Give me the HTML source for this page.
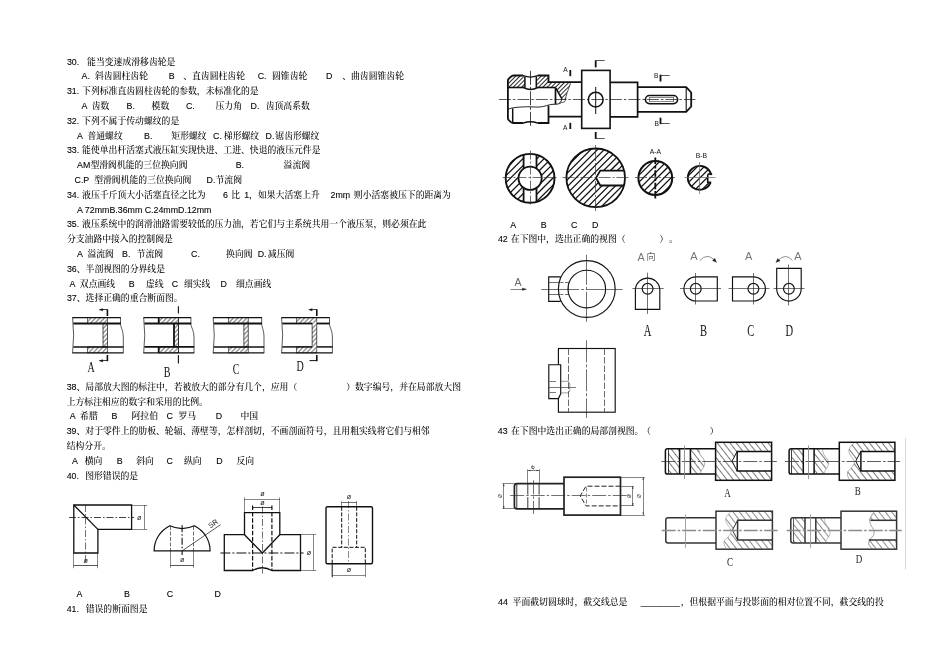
<!DOCTYPE html>
<html lang="zh"><head><meta charset="utf-8"><title>page</title>
<style>
html,body{margin:0;padding:0;background:#fff}
body{width:950px;height:672px;position:relative;overflow:hidden;font-family:"Liberation Sans","Noto Serif CJK SC",serif;font-size:8.83px;color:#000;font-weight:500}
.t{position:absolute;white-space:pre;line-height:15px;height:15px}
.l{-webkit-text-stroke:0.1px #000}
svg{position:absolute;left:0;top:0}
#wrap{position:absolute;left:0;top:0;width:950px;height:672px;will-change:transform}
</style></head><body><div id="wrap">
<svg width="950" height="672" viewBox="0 0 950 672">
<defs>
<pattern id="h37" width="3.2" height="3.2" patternUnits="userSpaceOnUse" patternTransform="rotate(-46)"><line x1="0" y1="1.6" x2="3.2" y2="1.6" stroke="#222" stroke-width="0.7"/></pattern>
<pattern id="h45" width="5.7" height="5.7" patternUnits="userSpaceOnUse" patternTransform="rotate(-45)"><line x1="0" y1="2.85" x2="5.7" y2="2.85" stroke="#111" stroke-width="1.05"/></pattern>
<pattern id="h45s" width="3" height="3" patternUnits="userSpaceOnUse" patternTransform="rotate(-45)"><line x1="0" y1="1.5" x2="3" y2="1.5" stroke="#111" stroke-width="0.9"/></pattern>
<pattern id="hb" width="5" height="5" patternUnits="userSpaceOnUse" patternTransform="rotate(52)"><line x1="0" y1="2.5" x2="5" y2="2.5" stroke="#333" stroke-width="0.65"/></pattern>
</defs>
<g id="q37">
<rect x="87.6" y="317.7" width="19.8" height="5.8" rx="0.0" fill="url(#h37)" stroke="#111" stroke-width="0.60"/>
<rect x="87.6" y="346.9" width="19.8" height="6.0" rx="0.0" fill="url(#h37)" stroke="#111" stroke-width="0.60"/>
<rect x="103.0" y="323.5" width="4.4" height="23.4" rx="0.0" fill="url(#h37)" stroke="#111" stroke-width="0.70"/>
<line x1="72.30" y1="317.70" x2="120.80" y2="317.70" stroke="#111" stroke-width="1.30"/>
<line x1="72.30" y1="352.90" x2="123.50" y2="352.90" stroke="#111" stroke-width="1.40"/>
<path d="M72.6 317.7 Q74.7 335.3 72.6 352.9" fill="none" stroke="#111" stroke-width="0.70" />
<path d="M120.5 317.7 V324.5 C120.8 327.5 123.5 330.5 123.3 338.9 V352.9" fill="none" stroke="#111" stroke-width="0.70" />
<line x1="73.30" y1="323.50" x2="120.80" y2="323.50" stroke="#111" stroke-width="1.90"/>
<line x1="73.30" y1="346.90" x2="123.50" y2="346.90" stroke="#111" stroke-width="1.50"/>
<line x1="107.40" y1="309.30" x2="107.40" y2="316.00" stroke="#111" stroke-width="1.60"/>
<line x1="100.00" y1="309.50" x2="107.40" y2="309.50" stroke="#111" stroke-width="0.80"/>
<path d="M98.8 309.8 L102.8 308.5 L102.8 311.1 Z" fill="#111" stroke="#111" stroke-width="0.20" />
<line x1="107.40" y1="355.00" x2="107.40" y2="361.20" stroke="#111" stroke-width="1.60"/>
<line x1="100.00" y1="360.50" x2="107.40" y2="360.50" stroke="#111" stroke-width="0.80"/>
<path d="M98.8 360.8 L102.8 359.5 L102.8 362.1 Z" fill="#111" stroke="#111" stroke-width="0.20" />
<text transform="translate(91.2 371.9) scale(0.65 1)" font-family='"Liberation Serif",serif' font-size="15.5" fill="#111" text-anchor="middle" font-weight="normal">A</text>
<rect x="158.7" y="317.7" width="19.7" height="5.8" rx="0.0" fill="url(#h37)" stroke="#111" stroke-width="0.60"/>
<rect x="158.7" y="346.9" width="19.7" height="6.0" rx="0.0" fill="url(#h37)" stroke="#111" stroke-width="0.60"/>
<rect x="174.0" y="323.5" width="4.4" height="23.4" rx="0.0" fill="url(#h37)" stroke="#111" stroke-width="0.70"/>
<line x1="143.40" y1="317.70" x2="191.20" y2="317.70" stroke="#111" stroke-width="1.30"/>
<line x1="143.40" y1="352.90" x2="194.20" y2="352.90" stroke="#111" stroke-width="1.40"/>
<path d="M143.7 317.7 Q145.8 335.3 143.7 352.9" fill="none" stroke="#111" stroke-width="0.70" />
<path d="M190.9 317.7 V324.5 C191.2 327.5 194.2 330.5 194.0 338.9 V352.9" fill="none" stroke="#111" stroke-width="0.70" />
<line x1="144.40" y1="323.50" x2="191.20" y2="323.50" stroke="#111" stroke-width="1.80"/>
<line x1="144.40" y1="346.90" x2="194.20" y2="346.90" stroke="#111" stroke-width="1.60"/>
<line x1="158.70" y1="317.70" x2="158.70" y2="323.50" stroke="#111" stroke-width="1.80"/>
<line x1="158.70" y1="346.90" x2="158.70" y2="352.90" stroke="#111" stroke-width="1.80"/>
<line x1="174.00" y1="323.50" x2="174.00" y2="346.90" stroke="#111" stroke-width="1.70"/>
<line x1="178.40" y1="306.30" x2="178.40" y2="313.40" stroke="#111" stroke-width="1.10"/>
<line x1="178.40" y1="355.00" x2="178.40" y2="363.40" stroke="#111" stroke-width="1.10"/>
<line x1="178.50" y1="317.70" x2="178.50" y2="352.90" stroke="#111" stroke-width="0.60"/>
<text transform="translate(167.0 376.7) scale(0.65 1)" font-family='"Liberation Serif",serif' font-size="15.5" fill="#111" text-anchor="middle" font-weight="normal">B</text>
<rect x="228.7" y="317.7" width="19.5" height="5.8" rx="0.0" fill="url(#h37)" stroke="#111" stroke-width="0.60"/>
<rect x="228.7" y="346.9" width="19.5" height="6.0" rx="0.0" fill="url(#h37)" stroke="#111" stroke-width="0.60"/>
<rect x="243.9" y="323.5" width="4.3" height="23.4" rx="0.0" fill="url(#h37)" stroke="#111" stroke-width="0.70"/>
<line x1="212.90" y1="317.70" x2="262.00" y2="317.70" stroke="#111" stroke-width="1.30"/>
<line x1="212.90" y1="352.90" x2="264.20" y2="352.90" stroke="#111" stroke-width="1.40"/>
<path d="M213.2 317.7 Q215.3 335.3 213.2 352.9" fill="none" stroke="#111" stroke-width="0.70" />
<path d="M261.7 317.7 V324.5 C262.0 327.5 264.2 330.5 264.0 338.9 V352.9" fill="none" stroke="#111" stroke-width="0.70" />
<line x1="213.90" y1="323.50" x2="262.00" y2="323.50" stroke="#111" stroke-width="1.90"/>
<line x1="213.90" y1="346.90" x2="264.20" y2="346.90" stroke="#111" stroke-width="1.50"/>
<text transform="translate(236.0 373.5) scale(0.65 1)" font-family='"Liberation Serif",serif' font-size="15.5" fill="#111" text-anchor="middle" font-weight="normal">C</text>
<rect x="296.3" y="317.7" width="20.5" height="5.8" rx="0.0" fill="url(#h37)" stroke="#111" stroke-width="0.60"/>
<rect x="296.3" y="346.9" width="20.5" height="6.0" rx="0.0" fill="url(#h37)" stroke="#111" stroke-width="0.60"/>
<rect x="312.1" y="323.5" width="4.7" height="23.4" rx="0.0" fill="url(#h37)" stroke="#111" stroke-width="0.70"/>
<line x1="281.30" y1="317.70" x2="329.80" y2="317.70" stroke="#111" stroke-width="1.30"/>
<line x1="281.30" y1="352.90" x2="332.60" y2="352.90" stroke="#111" stroke-width="1.40"/>
<path d="M281.6 317.7 Q283.7 335.3 281.6 352.9" fill="none" stroke="#111" stroke-width="0.70" />
<path d="M329.5 317.7 V324.5 C329.8 327.5 332.6 330.5 332.4 338.9 V352.9" fill="none" stroke="#111" stroke-width="0.70" />
<line x1="282.30" y1="323.50" x2="312.10" y2="323.50" stroke="#111" stroke-width="1.80"/>
<line x1="316.80" y1="323.50" x2="329.80" y2="323.50" stroke="#111" stroke-width="1.80"/>
<line x1="282.30" y1="346.90" x2="312.10" y2="346.90" stroke="#111" stroke-width="1.50"/>
<line x1="316.80" y1="346.90" x2="332.60" y2="346.90" stroke="#111" stroke-width="1.50"/>
<rect x="312.6" y="322.4" width="3.8" height="2.2" fill="#fff"/>
<rect x="312.6" y="322.4" width="3.8" height="2.2" fill="url(#h37)"/>
<rect x="312.6" y="345.8" width="3.8" height="2.2" fill="#fff"/>
<rect x="312.6" y="345.8" width="3.8" height="2.2" fill="url(#h37)"/>
<line x1="316.80" y1="309.30" x2="316.80" y2="316.00" stroke="#111" stroke-width="1.60"/>
<line x1="309.50" y1="309.50" x2="316.80" y2="309.50" stroke="#111" stroke-width="0.80"/>
<path d="M308.4 309.8 L312.2 308.5 L312.2 311.1 Z" fill="#111" stroke="#111" stroke-width="0.20" />
<line x1="316.80" y1="355.00" x2="316.80" y2="361.20" stroke="#111" stroke-width="1.60"/>
<line x1="309.50" y1="360.60" x2="316.80" y2="360.60" stroke="#111" stroke-width="1.00"/>
<text transform="translate(300.2 371.2) scale(0.65 1)" font-family='"Liberation Serif",serif' font-size="15.5" fill="#111" text-anchor="middle" font-weight="normal">D</text>
</g>
<g id="q40">
<path d="M73.8 505 H131.6 V529.4 H97.9 V553 H73.8 Z" fill="none" stroke="#111" stroke-width="1.30" />
<line x1="73.80" y1="505.00" x2="97.90" y2="529.40" stroke="#111" stroke-width="1.30"/>
<line x1="69.00" y1="517.50" x2="134.00" y2="517.50" stroke="#111" stroke-width="0.80" stroke-dasharray="7 2 1.5 2"/>
<line x1="85.50" y1="505.00" x2="85.50" y2="563.50" stroke="#111" stroke-width="0.60" stroke-dasharray="7 2 1.5 2"/>
<line x1="131.60" y1="505.50" x2="147.20" y2="505.50" stroke="#111" stroke-width="0.50"/>
<line x1="131.60" y1="529.50" x2="147.20" y2="529.50" stroke="#111" stroke-width="0.50"/>
<line x1="144.50" y1="505.00" x2="144.50" y2="529.40" stroke="#111" stroke-width="0.50"/>
<text transform="translate(139.1 519.7)" font-family='"Liberation Sans",sans-serif' font-size="7.2" fill="#222" text-anchor="middle" font-weight="normal">ø</text>
<line x1="73.50" y1="553.00" x2="73.50" y2="568.20" stroke="#111" stroke-width="0.50"/>
<line x1="97.50" y1="553.00" x2="97.50" y2="568.20" stroke="#111" stroke-width="0.50"/>
<line x1="73.80" y1="565.50" x2="97.90" y2="565.50" stroke="#111" stroke-width="0.70"/>
<text transform="translate(85.8 562.7)" font-family='"Liberation Sans",sans-serif' font-size="7.2" fill="#222" text-anchor="middle" font-weight="normal">ø</text>
<path d="M154.1 550.9 A28.0 28.0 0 0 1 169.9 525.7 Q182.1 531.4 194.3 525.7 A28.0 28.0 0 0 1 210.1 550.9 Z" fill="none" stroke="#111" stroke-width="1.20" />
<line x1="170.50" y1="526.00" x2="170.50" y2="550.90" stroke="#111" stroke-width="0.60" stroke-dasharray="4 1.5"/>
<line x1="193.50" y1="526.00" x2="193.50" y2="550.90" stroke="#111" stroke-width="0.60" stroke-dasharray="4 1.5"/>
<line x1="170.50" y1="550.90" x2="170.50" y2="567.70" stroke="#111" stroke-width="0.50"/>
<line x1="193.50" y1="550.90" x2="193.50" y2="567.70" stroke="#111" stroke-width="0.50"/>
<line x1="182.10" y1="525.30" x2="182.10" y2="555.00" stroke="#111" stroke-width="1.10" stroke-dasharray="7 2 1.5 2"/>
<line x1="182.10" y1="550.90" x2="220.50" y2="524.70" stroke="#111" stroke-width="0.70"/>
<text transform="translate(214.6 525.6) rotate(-35.0) scale(0.95 1)" font-family='"Liberation Sans",sans-serif' font-size="7.4" fill="#111" text-anchor="middle" font-weight="normal">SR</text>
<line x1="170.40" y1="565.50" x2="193.70" y2="565.50" stroke="#111" stroke-width="0.70"/>
<text transform="translate(182.1 561.9)" font-family='"Liberation Sans",sans-serif' font-size="7.2" fill="#222" text-anchor="middle" font-weight="normal">ø</text>
<path d="M244.5 534.7 H224.3 V570.5 H252.6 Q262.4 565 271.9 570.5 H300.5 V534.7 H279.8 V512.7 H244.5 Z" fill="none" stroke="#111" stroke-width="1.30" />
<path d="M244.5 534.7 L262.4 553 L279.8 534.7" fill="none" stroke="#111" stroke-width="1.30" />
<line x1="252.60" y1="505.60" x2="252.60" y2="570.50" stroke="#111" stroke-width="1.20" stroke-dasharray="4.5 1.8"/>
<line x1="271.90" y1="505.60" x2="271.90" y2="570.50" stroke="#111" stroke-width="1.20" stroke-dasharray="4.5 1.8"/>
<line x1="262.50" y1="506.50" x2="262.50" y2="573.60" stroke="#111" stroke-width="0.60" stroke-dasharray="7 2 1.5 2"/>
<line x1="220.40" y1="553.00" x2="303.60" y2="553.00" stroke="#111" stroke-width="1.10" stroke-dasharray="10 2 2 2"/>
<line x1="244.50" y1="497.50" x2="244.50" y2="512.70" stroke="#111" stroke-width="0.50"/>
<line x1="279.50" y1="497.50" x2="279.50" y2="512.70" stroke="#111" stroke-width="0.50"/>
<line x1="244.50" y1="499.50" x2="279.80" y2="499.50" stroke="#111" stroke-width="0.50"/>
<text transform="translate(262.4 495.9)" font-family='"Liberation Sans",sans-serif' font-size="7.2" fill="#222" text-anchor="middle" font-weight="normal">ø</text>
<line x1="252.60" y1="507.50" x2="271.90" y2="507.50" stroke="#111" stroke-width="0.80"/>
<text transform="translate(262.4 504.8)" font-family='"Liberation Sans",sans-serif' font-size="7.2" fill="#222" text-anchor="middle" font-weight="normal">ø</text>
<line x1="300.50" y1="534.50" x2="316.10" y2="534.50" stroke="#111" stroke-width="0.50"/>
<line x1="300.50" y1="570.50" x2="316.10" y2="570.50" stroke="#111" stroke-width="0.50"/>
<line x1="313.50" y1="534.70" x2="313.50" y2="570.50" stroke="#111" stroke-width="0.50"/>
<text transform="translate(309.0 555.1)" font-family='"Liberation Sans",sans-serif' font-size="7.2" fill="#222" text-anchor="middle" font-weight="normal">ø</text>
<rect x="326.0" y="506.8" width="46.5" height="56.9" rx="1.5" fill="none" stroke="#111" stroke-width="1.40"/>
<line x1="341.70" y1="506.80" x2="341.70" y2="547.30" stroke="#111" stroke-width="1.00" stroke-dasharray="4 1.6"/>
<line x1="356.70" y1="506.80" x2="356.70" y2="547.30" stroke="#111" stroke-width="1.00" stroke-dasharray="4 1.6"/>
<path d="M332.2 563.7 V547.3 H365.3 V563.7" fill="none" stroke="#111" stroke-width="1.00" stroke-dasharray="4 1.6" />
<line x1="332.20" y1="563.70" x2="332.20" y2="577.20" stroke="#111" stroke-width="1.00"/>
<line x1="365.50" y1="563.70" x2="365.50" y2="577.20" stroke="#111" stroke-width="0.50"/>
<line x1="332.20" y1="575.50" x2="365.30" y2="575.50" stroke="#111" stroke-width="0.50"/>
<text transform="translate(348.9 572.4)" font-family='"Liberation Sans",sans-serif' font-size="7.2" fill="#222" text-anchor="middle" font-weight="normal">ø</text>
<line x1="341.50" y1="501.10" x2="341.50" y2="506.80" stroke="#111" stroke-width="0.50"/>
<line x1="356.50" y1="501.10" x2="356.50" y2="506.80" stroke="#111" stroke-width="0.50"/>
<line x1="341.70" y1="502.50" x2="356.70" y2="502.50" stroke="#111" stroke-width="0.60"/>
<text transform="translate(348.9 499.4)" font-family='"Liberation Sans",sans-serif' font-size="7.2" fill="#222" text-anchor="middle" font-weight="normal">ø</text>
<line x1="348.50" y1="501.00" x2="348.50" y2="563.70" stroke="#111" stroke-width="0.50" stroke-dasharray="7 2 1.5 2"/>
</g>
<g id="q41">
<path d="M508.2 80 L512.6 75.8 H523.6 L525 77 V87.5 H508.2 Z" fill="url(#h45s)" stroke="#111" stroke-width="0.00" />
<path d="M536.3 87.5 V77 L537.6 75.8 H548.5 V87.5 Z" fill="url(#h45s)" stroke="#111" stroke-width="0.00" />
<path d="M548.5 82.4 H570.8 L569.6 86 L567.6 91 L566 96 L565.6 99.6 L562.2 99.6 L555.9 88.4 V87.5 H548.5 Z" fill="url(#h45s)" stroke="#111" stroke-width="0.00" />
<path d="M507.9 109 V80.2 Q508.2 79 509.2 78.2 L511.8 76 Q512.6 75.5 513.6 75.5 H523.2" fill="none" stroke="#111" stroke-width="1.80" />
<path d="M523.2 75.5 Q530.5 78.6 537.6 75.5" fill="none" stroke="#111" stroke-width="1.30" />
<path d="M537.6 75.5 H548.5 V82.2 H581.8" fill="none" stroke="#111" stroke-width="1.80" />
<line x1="524.90" y1="76.40" x2="524.90" y2="87.40" stroke="#111" stroke-width="1.50"/>
<line x1="536.30" y1="76.40" x2="536.30" y2="87.40" stroke="#111" stroke-width="1.50"/>
<path d="M523.6 87.5 Q530.5 91.6 537.6 87.5" fill="none" stroke="#111" stroke-width="1.50" />
<line x1="507.90" y1="87.50" x2="524.20" y2="87.50" stroke="#111" stroke-width="1.60"/>
<line x1="537.00" y1="87.50" x2="555.80" y2="87.50" stroke="#111" stroke-width="1.60"/>
<line x1="555.50" y1="87.50" x2="555.50" y2="104.40" stroke="#111" stroke-width="1.70"/>
<path d="M555.8 88.2 L561.9 98.9" fill="none" stroke="#111" stroke-width="1.50" />
<path d="M561.9 98.9 Q561.6 102 558.8 103.4" fill="none" stroke="#111" stroke-width="0.90" />
<path d="M570.7 82.4 C570 86 568.2 89.5 567.2 92.5 S565.6 98 565.5 100.3 Q565 102.6 561.6 102.6" fill="none" stroke="#111" stroke-width="0.70" />
<path d="M508.2 109.2 C512 107.6 516 107.4 520 107.1 S529 106.6 533 106.9 S541 107.4 546.3 105.7 S553 104.4 556 104.2 S560.4 103.4 561.6 102.4" fill="none" stroke="#111" stroke-width="0.90" />
<path d="M507.9 109 V118.4 Q508 119.4 508.8 120.2 L511.2 122.4 Q512 123 513 123 H523.4" fill="none" stroke="#111" stroke-width="1.80" />
<path d="M523.4 123 Q530.5 120.6 537.6 123" fill="none" stroke="#111" stroke-width="1.40" />
<path d="M537.6 123 H548.5 V105.4" fill="none" stroke="#111" stroke-width="1.80" />
<line x1="512.70" y1="108.40" x2="512.70" y2="123.00" stroke="#111" stroke-width="1.50"/>
<line x1="548.50" y1="116.70" x2="581.80" y2="116.70" stroke="#111" stroke-width="1.80"/>
<line x1="498.90" y1="99.50" x2="695.40" y2="99.50" stroke="#111" stroke-width="0.70" stroke-dasharray="12 2 2.5 2"/>
<line x1="530.50" y1="70.80" x2="530.50" y2="127.20" stroke="#111" stroke-width="0.80" stroke-dasharray="14 2 2.5 2"/>
<text transform="translate(565.4 72.4)" font-family='"Liberation Sans",sans-serif' font-size="6.6" fill="#111" text-anchor="middle" font-weight="normal">A</text>
<line x1="570.30" y1="70.00" x2="570.30" y2="76.20" stroke="#111" stroke-width="1.80"/>
<text transform="translate(565.3 129.7)" font-family='"Liberation Sans",sans-serif' font-size="6.6" fill="#111" text-anchor="middle" font-weight="normal">A</text>
<line x1="570.30" y1="122.80" x2="570.30" y2="129.00" stroke="#111" stroke-width="1.80"/>
<rect x="581.7" y="70.4" width="28.4" height="58.0" rx="0.0" fill="none" stroke="#111" stroke-width="1.60"/>
<circle cx="595.7" cy="99.6" r="7.4" fill="none" stroke="#111" stroke-width="1.50"/>
<line x1="595.70" y1="87.00" x2="595.70" y2="114.00" stroke="#111" stroke-width="1.00"/>
<line x1="595.70" y1="60.40" x2="595.70" y2="67.40" stroke="#111" stroke-width="1.80"/>
<line x1="595.70" y1="60.50" x2="604.70" y2="60.50" stroke="#111" stroke-width="0.70"/>
<line x1="595.70" y1="132.00" x2="595.70" y2="138.80" stroke="#111" stroke-width="1.80"/>
<line x1="595.70" y1="138.50" x2="604.70" y2="138.50" stroke="#111" stroke-width="0.70"/>
<path d="M610.1 82.4 H637.6 V116.8 H610.1" fill="none" stroke="#111" stroke-width="1.70" />
<path d="M637.6 87.1 H686.2 L691.2 92.5 V106.5 L686.2 111.9 H637.6" fill="none" stroke="#111" stroke-width="1.80" />
<line x1="686.20" y1="87.10" x2="686.20" y2="111.90" stroke="#111" stroke-width="1.10"/>
<rect x="645.4" y="95.5" width="32.2" height="8.2" rx="4.1" fill="none" stroke="#111" stroke-width="1.60"/>
<line x1="649.50" y1="97.00" x2="649.50" y2="102.20" stroke="#111" stroke-width="0.50"/>
<line x1="673.50" y1="97.00" x2="673.50" y2="102.20" stroke="#111" stroke-width="0.50"/>
<line x1="649.50" y1="97.50" x2="673.50" y2="97.50" stroke="#111" stroke-width="0.50"/>
<line x1="649.50" y1="101.50" x2="673.50" y2="101.50" stroke="#111" stroke-width="0.50"/>
<text transform="translate(656.3 77.8)" font-family='"Liberation Sans",sans-serif' font-size="6.6" fill="#111" text-anchor="middle" font-weight="normal">B</text>
<line x1="660.50" y1="74.70" x2="660.50" y2="81.50" stroke="#111" stroke-width="1.80"/>
<line x1="660.50" y1="75.50" x2="669.70" y2="75.50" stroke="#111" stroke-width="0.70"/>
<text transform="translate(656.6 126.4)" font-family='"Liberation Sans",sans-serif' font-size="6.6" fill="#111" text-anchor="middle" font-weight="normal">B</text>
<line x1="660.50" y1="117.70" x2="660.50" y2="124.10" stroke="#111" stroke-width="1.80"/>
<line x1="660.50" y1="123.50" x2="669.70" y2="123.50" stroke="#111" stroke-width="0.70"/>
<clipPath id="hc1"><circle cx="530.1" cy="178.3" r="24.4"/></clipPath><g clip-path="url(#hc1)" stroke="#111" stroke-width="1.25"><line x1="473.2" y1="173.0" x2="524.8" y2="121.4"/><line x1="476.7" y1="176.5" x2="528.3" y2="124.9"/><line x1="480.2" y1="180.1" x2="531.9" y2="128.4"/><line x1="483.8" y1="183.6" x2="535.4" y2="132.0"/><line x1="487.3" y1="187.1" x2="538.9" y2="135.5"/><line x1="490.9" y1="190.7" x2="542.5" y2="139.1"/><line x1="494.4" y1="194.2" x2="546.0" y2="142.6"/><line x1="497.9" y1="197.8" x2="549.6" y2="146.1"/><line x1="501.5" y1="201.3" x2="553.1" y2="149.7"/><line x1="505.0" y1="204.8" x2="556.6" y2="153.2"/><line x1="508.5" y1="208.4" x2="560.2" y2="156.7"/><line x1="512.1" y1="211.9" x2="563.7" y2="160.3"/><line x1="515.6" y1="215.4" x2="567.2" y2="163.8"/><line x1="519.1" y1="219.0" x2="570.8" y2="167.3"/><line x1="522.7" y1="222.5" x2="574.3" y2="170.9"/><line x1="526.2" y1="226.0" x2="577.8" y2="174.4"/><line x1="529.7" y1="229.6" x2="581.4" y2="177.9"/><line x1="533.3" y1="233.1" x2="584.9" y2="181.5"/><line x1="536.8" y1="236.6" x2="588.4" y2="185.0"/></g>
<rect x="523.6" y="152" width="12.9" height="52" fill="#fff"/>
<circle cx="530.1" cy="178.3" r="24.4" fill="none" stroke="#111" stroke-width="1.90"/>
<circle cx="530.1" cy="178.3" r="11.6" fill="#fff" stroke="#111" stroke-width="1.80"/>
<line x1="523.60" y1="154.60" x2="523.60" y2="168.40" stroke="#111" stroke-width="1.80"/>
<line x1="536.50" y1="154.60" x2="536.50" y2="168.40" stroke="#111" stroke-width="1.80"/>
<line x1="523.60" y1="188.20" x2="523.60" y2="202.00" stroke="#111" stroke-width="1.80"/>
<line x1="536.50" y1="188.20" x2="536.50" y2="202.00" stroke="#111" stroke-width="1.80"/>
<line x1="502.50" y1="177.50" x2="557.50" y2="177.50" stroke="#333" stroke-width="0.70" stroke-dasharray="9 2 2 2"/>
<line x1="530.50" y1="150.50" x2="530.50" y2="205.50" stroke="#333" stroke-width="0.70" stroke-dasharray="9 2 2 2"/>
<clipPath id="hc2"><circle cx="595.7" cy="177.8" r="29.3"/></clipPath><g clip-path="url(#hc2)" stroke="#111" stroke-width="1.25"><line x1="528.0" y1="171.5" x2="589.4" y2="110.1"/><line x1="531.4" y1="174.9" x2="592.8" y2="113.5"/><line x1="534.8" y1="178.3" x2="596.2" y2="116.9"/><line x1="538.2" y1="181.7" x2="599.6" y2="120.3"/><line x1="541.6" y1="185.1" x2="603.0" y2="123.7"/><line x1="545.0" y1="188.5" x2="606.4" y2="127.1"/><line x1="548.4" y1="191.9" x2="609.8" y2="130.5"/><line x1="551.8" y1="195.3" x2="613.2" y2="133.9"/><line x1="555.2" y1="198.7" x2="616.6" y2="137.3"/><line x1="558.6" y1="202.1" x2="620.0" y2="140.7"/><line x1="561.9" y1="205.5" x2="623.4" y2="144.0"/><line x1="565.3" y1="208.9" x2="626.8" y2="147.4"/><line x1="568.7" y1="212.3" x2="630.2" y2="150.8"/><line x1="572.1" y1="215.7" x2="633.6" y2="154.2"/><line x1="575.5" y1="219.1" x2="637.0" y2="157.6"/><line x1="578.9" y1="222.4" x2="640.3" y2="161.0"/><line x1="582.3" y1="225.8" x2="643.7" y2="164.4"/><line x1="585.7" y1="229.2" x2="647.1" y2="167.8"/><line x1="589.1" y1="232.6" x2="650.5" y2="171.2"/><line x1="592.5" y1="236.0" x2="653.9" y2="174.6"/><line x1="595.9" y1="239.4" x2="657.3" y2="178.0"/><line x1="599.3" y1="242.8" x2="660.7" y2="181.4"/><line x1="602.7" y1="246.2" x2="664.1" y2="184.8"/></g>
<path d="M596 177.9 L600.3 170.6 H625 V185.5 H600.3 Z" fill="#fff" stroke="#111" stroke-width="0.00" />
<circle cx="595.7" cy="177.8" r="29.3" fill="none" stroke="#111" stroke-width="1.80"/>
<path d="M624.2 170.6 H600.3 L596 177.9 L600.3 185.5 H624.2" fill="none" stroke="#111" stroke-width="1.80" />
<line x1="562.50" y1="177.50" x2="629.00" y2="177.50" stroke="#333" stroke-width="0.70" stroke-dasharray="12 2 2 2"/>
<line x1="595.50" y1="145.00" x2="595.50" y2="211.00" stroke="#333" stroke-width="0.70" stroke-dasharray="12 2 2 2"/>
<clipPath id="hc3"><circle cx="655.3" cy="178.0" r="16.9"/></clipPath><g clip-path="url(#hc3)" stroke="#111" stroke-width="1.25"><line x1="613.6" y1="172.9" x2="650.2" y2="136.3"/><line x1="617.0" y1="176.4" x2="653.7" y2="139.7"/><line x1="620.5" y1="179.8" x2="657.1" y2="143.2"/><line x1="624.0" y1="183.3" x2="660.6" y2="146.7"/><line x1="627.4" y1="186.8" x2="664.1" y2="150.1"/><line x1="630.9" y1="190.2" x2="667.5" y2="153.6"/><line x1="634.4" y1="193.7" x2="671.0" y2="157.1"/><line x1="637.8" y1="197.2" x2="674.5" y2="160.5"/><line x1="641.3" y1="200.6" x2="677.9" y2="164.0"/><line x1="644.8" y1="204.1" x2="681.4" y2="167.5"/><line x1="648.2" y1="207.6" x2="684.9" y2="170.9"/><line x1="651.7" y1="211.0" x2="688.3" y2="174.4"/><line x1="655.2" y1="214.5" x2="691.8" y2="177.9"/><line x1="658.6" y1="218.0" x2="695.3" y2="181.3"/><line x1="662.1" y1="221.4" x2="698.7" y2="184.8"/></g>
<circle cx="655.3" cy="178.0" r="16.9" fill="none" stroke="#111" stroke-width="2.00"/>
<line x1="635.00" y1="177.50" x2="676.00" y2="177.50" stroke="#333" stroke-width="0.70" stroke-dasharray="8 2 2 2"/>
<line x1="655.30" y1="157.60" x2="655.30" y2="198.60" stroke="#111" stroke-width="1.80" stroke-dasharray="6.5 1.8 2.5 1.8"/>
<text transform="translate(655.3 154.2)" font-family='"Liberation Sans",sans-serif' font-size="6.8" fill="#111" text-anchor="middle" font-weight="normal">A-A</text>
<clipPath id="hc4"><circle cx="699.6" cy="177.8" r="11.9"/></clipPath><g clip-path="url(#hc4)" stroke="#111" stroke-width="1.25"><line x1="669.2" y1="174.0" x2="695.8" y2="147.4"/><line x1="672.6" y1="177.5" x2="699.3" y2="150.8"/><line x1="676.1" y1="180.9" x2="702.7" y2="154.3"/><line x1="679.6" y1="184.4" x2="706.2" y2="157.8"/><line x1="683.0" y1="187.9" x2="709.7" y2="161.2"/><line x1="686.5" y1="191.3" x2="713.1" y2="164.7"/><line x1="690.0" y1="194.8" x2="716.6" y2="168.2"/><line x1="693.4" y1="198.3" x2="720.1" y2="171.6"/><line x1="696.9" y1="201.7" x2="723.5" y2="175.1"/><line x1="700.4" y1="205.2" x2="727.0" y2="178.6"/><line x1="703.8" y1="208.7" x2="730.5" y2="182.0"/></g>
<rect x="707.7" y="173.8" width="6" height="8.5" fill="#fff"/>
<path d="M710.6 173 A11.9 11.9 0 1 0 710.6 182.6" fill="none" stroke="#111" stroke-width="1.90" />
<path d="M710.4 172.8 Q712.4 174.6 710.8 174.4 Q708 173 707.7 175.6 V182.3 H711.2" fill="none" stroke="#111" stroke-width="1.60" />
<line x1="684.50" y1="177.50" x2="715.50" y2="177.50" stroke="#666" stroke-width="0.70"/>
<line x1="699.50" y1="162.00" x2="699.50" y2="194.00" stroke="#666" stroke-width="0.70"/>
<text transform="translate(701.4 158.2)" font-family='"Liberation Sans",sans-serif' font-size="6.8" fill="#111" text-anchor="middle" font-weight="normal">B-B</text>
</g>
<g id="q42">
<text transform="translate(517.9 286.4)" font-family='"Liberation Sans",sans-serif' font-size="10.5" fill="#666" text-anchor="middle" font-weight="normal">A</text>
<line x1="510.40" y1="289.50" x2="524.00" y2="289.50" stroke="#333" stroke-width="0.60"/>
<path d="M526.8 289.2 L522.3 288 L522.3 290.4 Z" fill="#222" stroke="#111" stroke-width="0.20" />
<circle cx="586.8" cy="289.0" r="28.4" fill="none" stroke="#111" stroke-width="1.15"/>
<circle cx="586.8" cy="289.0" r="18.8" fill="none" stroke="#111" stroke-width="1.15"/>
<line x1="586.50" y1="254.80" x2="586.50" y2="322.80" stroke="#222" stroke-width="0.65" stroke-dasharray="30 2 3 2"/>
<line x1="541.20" y1="289.50" x2="622.60" y2="289.50" stroke="#222" stroke-width="0.65" stroke-dasharray="38 2 3 2"/>
<path d="M560.8 276.9 H548.7 V301.4 H560.8" fill="none" stroke="#111" stroke-width="1.15" />
<line x1="548.70" y1="282.50" x2="560.50" y2="282.50" stroke="#222" stroke-width="0.65"/>
<line x1="548.70" y1="294.50" x2="560.50" y2="294.50" stroke="#222" stroke-width="0.65"/>
<line x1="560.50" y1="282.50" x2="568.50" y2="282.50" stroke="#222" stroke-width="0.65" stroke-dasharray="3 1.5"/>
<line x1="560.50" y1="294.50" x2="568.50" y2="294.50" stroke="#222" stroke-width="0.65" stroke-dasharray="3 1.5"/>
<line x1="568.50" y1="282.50" x2="568.50" y2="295.00" stroke="#222" stroke-width="0.65" stroke-dasharray="3 1.5"/>
<path d="M635.4 288.8 A12.3 12.3 0 0 1 659.8 288.8 V309.4 H635.4 Z" fill="none" stroke="#111" stroke-width="1.15" />
<circle cx="647.6" cy="288.8" r="5.4" fill="none" stroke="#111" stroke-width="1.15"/>
<line x1="632.40" y1="288.50" x2="663.70" y2="288.50" stroke="#222" stroke-width="0.65"/>
<line x1="647.50" y1="272.70" x2="647.50" y2="313.90" stroke="#222" stroke-width="0.65"/>
<text transform="translate(637.4 260.6)" font-family='"Liberation Sans",sans-serif' font-size="10.8" fill="#777" text-anchor="start" font-weight="normal">A</text>
<text transform="translate(646.6 260.3)" font-family='"Liberation Sans","Noto Sans CJK SC",sans-serif' font-size="9.2" fill="#666" text-anchor="start" font-weight="normal">向</text>
<text transform="translate(647.6 336.4) scale(0.66 1)" font-family='"Liberation Serif",serif' font-size="16.0" fill="#111" text-anchor="middle" font-weight="normal">A</text>
<path d="M696 276.9 H717.3 V301 H696 A12.05 12.05 0 0 1 696 276.9 Z" fill="none" stroke="#111" stroke-width="1.15" />
<circle cx="695.8" cy="288.8" r="5.4" fill="none" stroke="#111" stroke-width="1.15"/>
<line x1="680.00" y1="288.50" x2="721.00" y2="288.50" stroke="#222" stroke-width="0.65"/>
<line x1="695.50" y1="273.00" x2="695.50" y2="304.50" stroke="#222" stroke-width="0.65"/>
<text transform="translate(694.0 259.6)" font-family='"Liberation Sans",sans-serif' font-size="11.0" fill="#777" text-anchor="middle" font-weight="normal">A</text>
<path d="M699.8 260.6 Q707 252.5 714.5 260" fill="none" stroke="#444" stroke-width="0.60" />
<path d="M716.6 262.6 L712.4 260.6 L714.9 258.3 Z" fill="#222" stroke="#111" stroke-width="0.20" />
<text transform="translate(703.5 335.8) scale(0.66 1)" font-family='"Liberation Serif",serif' font-size="16.0" fill="#111" text-anchor="middle" font-weight="normal">B</text>
<path d="M753.4 276.9 H732.5 V301 H753.4 A12.05 12.05 0 0 0 753.4 276.9 Z" fill="none" stroke="#111" stroke-width="1.15" />
<circle cx="753.4" cy="288.8" r="5.4" fill="none" stroke="#111" stroke-width="1.15"/>
<line x1="728.50" y1="288.50" x2="769.50" y2="288.50" stroke="#222" stroke-width="0.65"/>
<line x1="753.50" y1="273.00" x2="753.50" y2="304.50" stroke="#222" stroke-width="0.65"/>
<text transform="translate(748.6 259.6)" font-family='"Liberation Sans",sans-serif' font-size="11.0" fill="#777" text-anchor="middle" font-weight="normal">A</text>
<text transform="translate(750.7 335.8) scale(0.66 1)" font-family='"Liberation Serif",serif' font-size="16.0" fill="#111" text-anchor="middle" font-weight="normal">C</text>
<path d="M776.7 288.8 V268.3 H801.2 V288.8 A12.25 12.25 0 0 1 776.7 288.8 Z" fill="none" stroke="#111" stroke-width="1.15" />
<circle cx="788.9" cy="288.8" r="5.4" fill="none" stroke="#111" stroke-width="1.15"/>
<line x1="773.50" y1="288.50" x2="804.50" y2="288.50" stroke="#222" stroke-width="0.65"/>
<line x1="788.50" y1="264.50" x2="788.50" y2="305.50" stroke="#222" stroke-width="0.65"/>
<text transform="translate(797.8 259.6)" font-family='"Liberation Sans",sans-serif' font-size="11.0" fill="#777" text-anchor="middle" font-weight="normal">A</text>
<path d="M792.4 260.4 Q785.5 252.5 778 260.5" fill="none" stroke="#444" stroke-width="0.60" />
<path d="M775.8 262.6 L780.2 260.9 L777.7 258.4 Z" fill="#222" stroke="#111" stroke-width="0.20" />
<text transform="translate(789.2 336.2) scale(0.66 1)" font-family='"Liberation Serif",serif' font-size="16.0" fill="#111" text-anchor="middle" font-weight="normal">D</text>
<rect x="558.4" y="348.5" width="56.8" height="63.7" rx="0.0" fill="none" stroke="#111" stroke-width="1.15"/>
<path d="M558.4 364.7 H548.8 V398.6 H558.4 L560.7 393.8 V364.7 Z" fill="#fff" stroke="#111" stroke-width="1.15" />
<line x1="568.50" y1="348.50" x2="568.50" y2="412.20" stroke="#444" stroke-width="0.80" stroke-dasharray="6.5 2"/>
<line x1="604.50" y1="348.50" x2="604.50" y2="412.20" stroke="#444" stroke-width="0.80" stroke-dasharray="6.5 2"/>
<line x1="586.50" y1="340.30" x2="586.50" y2="417.90" stroke="#222" stroke-width="0.65" stroke-dasharray="22 2 3 2"/>
<line x1="549.50" y1="381.50" x2="556.00" y2="381.50" stroke="#333" stroke-width="0.65"/>
<line x1="549.50" y1="392.50" x2="556.00" y2="392.50" stroke="#333" stroke-width="0.65"/>
<line x1="549.20" y1="387.50" x2="576.00" y2="387.50" stroke="#333" stroke-width="0.65"/>
<path d="M560.7 381.3 H568.4 Q569.8 383 569.8 385 V389.4 Q569.8 391.4 568.4 392.9 H560.7" fill="none" stroke="#555" stroke-width="0.60" />
</g>
<g id="q43">
<path d="M564 483.6 H516.8 Q514.4 483.6 514.4 486.2 V506.3 Q514.4 508.9 516.8 508.9 H564" fill="none" stroke="#222" stroke-width="1.70" />
<line x1="516.80" y1="484.20" x2="516.80" y2="508.30" stroke="#222" stroke-width="0.90"/>
<rect x="564.0" y="477.2" width="56.5" height="37.9" rx="0.0" fill="none" stroke="#222" stroke-width="1.70"/>
<path d="M620.5 486.2 H586 L580.2 495.9 L586 505.9 H620.5" fill="none" stroke="#222" stroke-width="1.00" stroke-dasharray="5 2" />
<line x1="586.50" y1="487.50" x2="586.50" y2="505.00" stroke="#333" stroke-width="0.60" stroke-dasharray="4 2"/>
<line x1="510.20" y1="495.50" x2="629.70" y2="495.50" stroke="#333" stroke-width="0.70" stroke-dasharray="14 2 2.5 2"/>
<line x1="527.80" y1="483.60" x2="527.80" y2="508.90" stroke="#222" stroke-width="0.90" stroke-dasharray="11 2.5"/>
<line x1="539.10" y1="483.60" x2="539.10" y2="508.90" stroke="#222" stroke-width="0.90" stroke-dasharray="11 2.5"/>
<line x1="527.50" y1="469.30" x2="527.50" y2="483.60" stroke="#333" stroke-width="0.60"/>
<line x1="539.50" y1="469.30" x2="539.50" y2="483.60" stroke="#333" stroke-width="0.60"/>
<line x1="527.80" y1="470.50" x2="539.10" y2="470.50" stroke="#333" stroke-width="0.60"/>
<path d="M527.8 470.5 L530.4 469.7 L530.4 471.3 Z" fill="#333" stroke="#111" stroke-width="0.00" />
<path d="M539.1 470.5 L536.5 469.7 L536.5 471.3 Z" fill="#333" stroke="#111" stroke-width="0.00" />
<line x1="533.50" y1="480.30" x2="533.50" y2="513.90" stroke="#333" stroke-width="0.70" stroke-dasharray="14 2 2.5 2"/>
<line x1="514.40" y1="483.50" x2="502.60" y2="483.50" stroke="#333" stroke-width="0.60"/>
<line x1="514.40" y1="508.50" x2="502.60" y2="508.50" stroke="#333" stroke-width="0.60"/>
<line x1="503.50" y1="483.60" x2="503.50" y2="508.90" stroke="#333" stroke-width="0.60"/>
<path d="M503.8 483.6 L503.0 486.2 L504.6 486.2 Z" fill="#333" stroke="#111" stroke-width="0.00" />
<path d="M503.8 508.9 L503.0 506.3 L504.6 506.3 Z" fill="#333" stroke="#111" stroke-width="0.00" />
<line x1="620.50" y1="477.50" x2="644.90" y2="477.50" stroke="#333" stroke-width="0.60"/>
<line x1="620.50" y1="515.50" x2="644.90" y2="515.50" stroke="#333" stroke-width="0.60"/>
<line x1="643.50" y1="477.20" x2="643.50" y2="515.10" stroke="#333" stroke-width="0.60"/>
<path d="M643.2 477.2 L642.4 479.8 L644.0 479.8 Z" fill="#333" stroke="#111" stroke-width="0.00" />
<path d="M643.2 515.1 L642.4 512.5 L644.0 512.5 Z" fill="#333" stroke="#111" stroke-width="0.00" />
<line x1="620.50" y1="486.50" x2="634.00" y2="486.50" stroke="#333" stroke-width="0.60"/>
<line x1="620.50" y1="505.50" x2="634.00" y2="505.50" stroke="#333" stroke-width="0.60"/>
<line x1="632.50" y1="486.20" x2="632.50" y2="505.90" stroke="#333" stroke-width="0.60"/>
<path d="M632.8 486.2 L632.0 488.8 L633.6 488.8 Z" fill="#333" stroke="#111" stroke-width="0.00" />
<path d="M632.8 505.9 L632.0 503.3 L633.6 503.3 Z" fill="#333" stroke="#111" stroke-width="0.00" />
<text transform="translate(532.6 467.4) rotate(-60)" font-family='"Liberation Sans",sans-serif' font-size="6.5" fill="#333" text-anchor="middle" dy="2">ø</text>
<text transform="translate(499.8 495.9) rotate(-90)" font-family='"Liberation Sans",sans-serif' font-size="6.5" fill="#333" text-anchor="middle" dy="2">ø</text>
<text transform="translate(629.3 495.9) rotate(-90)" font-family='"Liberation Sans",sans-serif' font-size="6.5" fill="#333" text-anchor="middle" dy="2">ø</text>
<text transform="translate(639.4 495.9) rotate(-90)" font-family='"Liberation Sans",sans-serif' font-size="6.5" fill="#333" text-anchor="middle" dy="2">ø</text>
<path d="M668.0 448.8 H679.6 V474.1 H668.0 Z" fill="url(#hb)" stroke="#111" stroke-width="0.00" />
<path d="M698.6 449.2 C698.9 450.2 699.6 453.5 700.4 455.1 C701.2 456.7 702.9 457.8 703.6 459.0 C704.3 460.2 704.5 461.3 704.6 462.5 C704.7 463.7 704.6 465.0 704.1 466.3 C703.6 467.6 702.0 469.3 701.4 470.5 C700.8 471.7 700.6 473.2 700.4 473.7 H690.4 V448.8 Z" fill="url(#hb)" stroke="#111" stroke-width="0.00" />
<path d="M698.6 449.2 C698.9 450.2 699.6 453.5 700.4 455.1 C701.2 456.7 702.9 457.8 703.6 459.0 C704.3 460.2 704.5 461.3 704.6 462.5 C704.7 463.7 704.6 465.0 704.1 466.3 C703.6 467.6 702.0 469.3 701.4 470.5 C700.8 471.7 700.6 473.2 700.4 473.7" fill="none" stroke="#666" stroke-width="0.50" />
<rect x="715.6" y="442.3" width="56.0" height="38.0" rx="0.0" fill="url(#hb)" stroke="#111" stroke-width="0.00"/>
<path d="M771.6 451.4 H737.2 L732.0 461.2 L737.2 471.1 H771.6" fill="#fff" stroke="#111" stroke-width="0.00" />
<path d="M737.2 451.4 L732.0 461.2 L737.2 471.1" fill="none" stroke="#111" stroke-width="1.00" />
<path d="M771.6 451.4 H737.2 V471.1 H771.6" fill="none" stroke="#111" stroke-width="1.50" />
<rect x="715.6" y="442.3" width="56.0" height="38.0" rx="0.0" fill="none" stroke="#111" stroke-width="1.50"/>
<path d="M715.6 448.8 H667.6 Q665.4 448.8 665.4 451.0 V471.9 Q665.4 474.1 667.6 474.1 H715.6" fill="none" stroke="#111" stroke-width="1.50" />
<line x1="668.50" y1="449.30" x2="668.50" y2="473.60" stroke="#111" stroke-width="0.80"/>
<line x1="679.60" y1="448.80" x2="679.60" y2="474.10" stroke="#111" stroke-width="1.50"/>
<line x1="690.40" y1="448.80" x2="690.40" y2="474.10" stroke="#111" stroke-width="1.50"/>
<line x1="661.30" y1="461.50" x2="776.80" y2="461.50" stroke="#333" stroke-width="0.80" stroke-dasharray="14 2 2.5 2"/>
<line x1="684.50" y1="445.50" x2="684.50" y2="478.90" stroke="#888" stroke-width="0.90"/>
<path d="M791.7 448.8 H803.3 V474.1 H791.7 Z" fill="url(#hb)" stroke="#111" stroke-width="0.00" />
<path d="M822.3 449.2 C822.6 450.2 823.3 453.5 824.1 455.1 C824.9 456.7 826.6 457.8 827.3 459.0 C828.0 460.2 828.2 461.3 828.3 462.5 C828.4 463.7 828.3 465.0 827.8 466.3 C827.3 467.6 825.7 469.3 825.1 470.5 C824.5 471.7 824.3 473.2 824.1 473.7 H814.1 V448.8 Z" fill="url(#hb)" stroke="#111" stroke-width="0.00" />
<path d="M822.3 449.2 C822.6 450.2 823.3 453.5 824.1 455.1 C824.9 456.7 826.6 457.8 827.3 459.0 C828.0 460.2 828.2 461.3 828.3 462.5 C828.4 463.7 828.3 465.0 827.8 466.3 C827.3 467.6 825.7 469.3 825.1 470.5 C824.5 471.7 824.3 473.2 824.1 473.7" fill="none" stroke="#666" stroke-width="0.50" />
<path d="M853.8 443.0 C853.2 443.8 850.7 446.0 849.9 447.5 C849.1 449.0 848.8 450.4 849.0 451.9 C849.2 453.4 850.3 454.9 851.2 456.4 C852.1 457.9 853.8 459.6 854.2 461.0 C854.6 462.4 854.3 463.4 853.8 464.6 C853.3 465.8 852.2 467.2 851.2 468.3 C850.2 469.4 848.5 470.2 847.9 471.3 C847.3 472.4 847.3 473.6 847.5 475.0 C847.7 476.4 849.0 479.0 849.3 479.8 H894.9 V442.3 Z" fill="url(#hb)" stroke="#111" stroke-width="0.00" />
<path d="M853.8 443.0 C853.2 443.8 850.7 446.0 849.9 447.5 C849.1 449.0 848.8 450.4 849.0 451.9 C849.2 453.4 850.3 454.9 851.2 456.4 C852.1 457.9 853.8 459.6 854.2 461.0 C854.6 462.4 854.3 463.4 853.8 464.6 C853.3 465.8 852.2 467.2 851.2 468.3 C850.2 469.4 848.5 470.2 847.9 471.3 C847.3 472.4 847.3 473.6 847.5 475.0 C847.7 476.4 849.0 479.0 849.3 479.8" fill="none" stroke="#666" stroke-width="0.50" />
<path d="M894.9 451.4 H860.9 L855.7 461.2 L860.9 471.1 H894.9" fill="#fff" stroke="#111" stroke-width="0.00" />
<path d="M860.9 451.4 L855.7 461.2 L860.9 471.1" fill="none" stroke="#111" stroke-width="1.00" />
<path d="M894.9 451.4 H860.9 V471.1 H894.9" fill="none" stroke="#111" stroke-width="1.50" />
<rect x="839.3" y="442.3" width="55.6" height="38.0" rx="0.0" fill="none" stroke="#111" stroke-width="1.50"/>
<path d="M839.3 448.8 H791.3 Q789.1 448.8 789.1 451.0 V471.9 Q789.1 474.1 791.3 474.1 H839.3" fill="none" stroke="#111" stroke-width="1.50" />
<line x1="791.50" y1="449.30" x2="791.50" y2="473.60" stroke="#111" stroke-width="0.80"/>
<line x1="803.30" y1="448.80" x2="803.30" y2="474.10" stroke="#111" stroke-width="1.50"/>
<line x1="814.10" y1="448.80" x2="814.10" y2="474.10" stroke="#111" stroke-width="1.50"/>
<line x1="785.00" y1="461.50" x2="900.10" y2="461.50" stroke="#333" stroke-width="0.80" stroke-dasharray="14 2 2.5 2"/>
<line x1="808.50" y1="445.50" x2="808.50" y2="478.90" stroke="#888" stroke-width="0.90"/>
<g opacity="0.85">
<path d="M730.5 511.9 C729.9 512.7 727.4 514.9 726.6 516.4 C725.8 517.9 725.5 519.3 725.7 520.8 C725.9 522.3 727.0 523.8 727.9 525.3 C728.8 526.8 730.5 528.5 730.9 529.9 C731.3 531.3 731.0 532.3 730.5 533.5 C730.0 534.7 728.9 536.1 727.9 537.2 C726.9 538.3 725.2 539.1 724.6 540.2 C724.0 541.3 724.0 542.5 724.2 543.9 C724.4 545.3 725.7 547.9 726.0 548.7 H772.4 V511.2 Z" fill="url(#hb)" stroke="#111" stroke-width="0.00" />
<path d="M730.5 511.9 C729.9 512.7 727.4 514.9 726.6 516.4 C725.8 517.9 725.5 519.3 725.7 520.8 C725.9 522.3 727.0 523.8 727.9 525.3 C728.8 526.8 730.5 528.5 730.9 529.9 C731.3 531.3 731.0 532.3 730.5 533.5 C730.0 534.7 728.9 536.1 727.9 537.2 C726.9 538.3 725.2 539.1 724.6 540.2 C724.0 541.3 724.0 542.5 724.2 543.9 C724.4 545.3 725.7 547.9 726.0 548.7" fill="none" stroke="#666" stroke-width="0.50" />
<path d="M772.4 520.3 H737.6 L732.4 530.1 L737.6 540.0 H772.4" fill="#fff" stroke="#111" stroke-width="0.00" />
<path d="M737.6 520.3 L732.4 530.1 L737.6 540.0" fill="none" stroke="#111" stroke-width="1.00" />
<path d="M772.4 520.3 H737.6 V540.0 H772.4" fill="none" stroke="#111" stroke-width="1.50" />
<rect x="716.0" y="511.2" width="56.4" height="38.0" rx="0.0" fill="none" stroke="#111" stroke-width="1.50"/>
<path d="M716.0 517.7 H668.0 Q665.8 517.7 665.8 519.9 V540.8 Q665.8 543.0 668.0 543.0 H716.0" fill="none" stroke="#111" stroke-width="1.50" />
<line x1="661.70" y1="530.50" x2="777.60" y2="530.50" stroke="#777" stroke-width="1.30" stroke-dasharray="14 2 2.5 2"/>
<line x1="685.50" y1="514.40" x2="685.50" y2="547.80" stroke="#888" stroke-width="0.90"/>
<path d="M793.4 517.7 H805.0 V543.0 H793.4 Z" fill="url(#hb)" stroke="#111" stroke-width="0.00" />
<path d="M824.0 518.1 C824.3 519.1 825.0 522.4 825.8 524.0 C826.6 525.6 828.3 526.7 829.0 527.9 C829.7 529.1 829.9 530.2 830.0 531.4 C830.1 532.6 830.0 533.9 829.5 535.2 C829.0 536.5 827.4 538.2 826.8 539.4 C826.2 540.6 826.0 542.1 825.8 542.6 H815.8 V517.7 Z" fill="url(#hb)" stroke="#111" stroke-width="0.00" />
<path d="M824.0 518.1 C824.3 519.1 825.0 522.4 825.8 524.0 C826.6 525.6 828.3 526.7 829.0 527.9 C829.7 529.1 829.9 530.2 830.0 531.4 C830.1 532.6 830.0 533.9 829.5 535.2 C829.0 536.5 827.4 538.2 826.8 539.4 C826.2 540.6 826.0 542.1 825.8 542.6" fill="none" stroke="#666" stroke-width="0.50" />
<path d="M874.2 511.8 C873.6 512.7 871.4 515.7 870.6 517.2 C869.9 518.7 869.6 519.4 869.7 520.7 C869.8 522.0 870.3 523.5 871.0 525.2 C871.7 526.9 873.6 529.0 874.0 530.7 C874.4 532.4 874.2 533.8 873.6 535.2 C873.0 536.6 871.2 537.9 870.4 539.2 C869.6 540.5 868.8 542.0 868.7 543.2 C868.6 544.4 869.4 545.3 870.0 546.2 C870.6 547.1 871.8 548.4 872.2 548.8 H896.6 V511.2 Z" fill="url(#hb)" stroke="#111" stroke-width="0.00" />
<path d="M874.2 511.8 C873.6 512.7 871.4 515.7 870.6 517.2 C869.9 518.7 869.6 519.4 869.7 520.7 C869.8 522.0 870.3 523.5 871.0 525.2 C871.7 526.9 873.6 529.0 874.0 530.7 C874.4 532.4 874.2 533.8 873.6 535.2 C873.0 536.6 871.2 537.9 870.4 539.2 C869.6 540.5 868.8 542.0 868.7 543.2 C868.6 544.4 869.4 545.3 870.0 546.2 C870.6 547.1 871.8 548.4 872.2 548.8" fill="none" stroke="#666" stroke-width="0.50" />
<path d="M870.8 520.3 L870.8 520.3 C870.6 520.4 869.7 519.9 869.7 520.7 C869.7 521.5 870.3 523.5 871.0 525.2 C871.7 526.9 873.6 529.0 874.0 530.7 C874.4 532.4 874.2 533.8 873.6 535.2 C873.0 536.6 871.2 538.4 870.4 539.2 C869.6 540.0 869.2 539.9 869.0 540.0 H896.6 V520.3 Z" fill="#fff" stroke="#111" stroke-width="0.00" />
<path d="M874.2 511.8 C873.6 512.7 871.4 515.7 870.6 517.2 C869.9 518.7 869.6 519.4 869.7 520.7 C869.8 522.0 870.3 523.5 871.0 525.2 C871.7 526.9 873.6 529.0 874.0 530.7 C874.4 532.4 874.2 533.8 873.6 535.2 C873.0 536.6 871.2 537.9 870.4 539.2 C869.6 540.5 868.8 542.0 868.7 543.2 C868.6 544.4 869.4 545.3 870.0 546.2 C870.6 547.1 871.8 548.4 872.2 548.8" fill="none" stroke="#666" stroke-width="0.50" />
<line x1="870.40" y1="520.30" x2="896.60" y2="520.30" stroke="#111" stroke-width="1.50"/>
<line x1="868.80" y1="540.00" x2="896.60" y2="540.00" stroke="#111" stroke-width="1.50"/>
<rect x="841.0" y="511.2" width="55.6" height="38.0" rx="0.0" fill="none" stroke="#111" stroke-width="1.50"/>
<path d="M841.0 517.7 H793.0 Q790.8 517.7 790.8 519.9 V540.8 Q790.8 543.0 793.0 543.0 H841.0" fill="none" stroke="#111" stroke-width="1.50" />
<line x1="793.50" y1="518.20" x2="793.50" y2="542.50" stroke="#111" stroke-width="0.80"/>
<line x1="805.00" y1="517.70" x2="805.00" y2="543.00" stroke="#111" stroke-width="1.50"/>
<line x1="815.80" y1="517.70" x2="815.80" y2="543.00" stroke="#111" stroke-width="1.50"/>
<line x1="786.70" y1="530.50" x2="901.80" y2="530.50" stroke="#777" stroke-width="1.30" stroke-dasharray="14 2 2.5 2"/>
<line x1="810.50" y1="514.40" x2="810.50" y2="547.80" stroke="#888" stroke-width="0.90"/>
</g>
<text transform="translate(727.5 497.3) scale(0.72 1)" font-family='"Liberation Serif",serif' font-size="12.5" fill="#222" text-anchor="middle" font-weight="normal">A</text>
<text transform="translate(857.7 494.6) scale(0.72 1)" font-family='"Liberation Serif",serif' font-size="12.5" fill="#222" text-anchor="middle" font-weight="normal">B</text>
<text transform="translate(730.0 565.8) scale(0.72 1)" font-family='"Liberation Serif",serif' font-size="12.5" fill="#222" text-anchor="middle" font-weight="normal">C</text>
<text transform="translate(859.1 562.8) scale(0.72 1)" font-family='"Liberation Serif",serif' font-size="12.5" fill="#222" text-anchor="middle" font-weight="normal">D</text>
<line x1="905.50" y1="438.00" x2="905.50" y2="569.50" stroke="#ccc" stroke-width="0.70"/>
</g>
</svg>
<span class="t" style="left:66.9px;top:54.5px"><span class="l">30.</span></span>
<span class="t" style="left:87.1px;top:54.5px">能当变速成滑移齿轮是</span>
<span class="t" style="left:81.6px;top:69.4px"><span class="l">A.</span></span>
<span class="t" style="left:95.0px;top:69.4px">斜齿圆柱齿轮</span>
<span class="t" style="left:168.7px;top:69.4px"><span class="l">B</span></span>
<span class="t" style="left:183.2px;top:69.4px">、直齿圆柱齿轮</span>
<span class="t" style="left:257.7px;top:69.4px"><span class="l">C.</span></span>
<span class="t" style="left:272.0px;top:69.4px">圆锥齿轮</span>
<span class="t" style="left:325.9px;top:69.4px"><span class="l">D</span></span>
<span class="t" style="left:342.2px;top:69.4px">、曲齿圆锥齿轮</span>
<span class="t" style="left:66.9px;top:84.2px"><span class="l">31.</span></span>
<span class="t" style="left:82.1px;top:84.2px">下列标准直齿圆柱齿轮的参数，未标准化的是</span>
<span class="t" style="left:81.6px;top:99.0px"><span class="l">A</span></span>
<span class="t" style="left:91.7px;top:99.0px">齿数</span>
<span class="t" style="left:126.6px;top:99.0px"><span class="l">B.</span></span>
<span class="t" style="left:151.6px;top:99.0px">模数</span>
<span class="t" style="left:185.9px;top:99.0px"><span class="l">C.</span></span>
<span class="t" style="left:215.5px;top:99.0px">压力角</span>
<span class="t" style="left:250.5px;top:99.0px"><span class="l">D.</span></span>
<span class="t" style="left:265.7px;top:99.0px">齿顶高系数</span>
<span class="t" style="left:66.9px;top:113.8px"><span class="l">32.</span></span>
<span class="t" style="left:82.1px;top:113.8px">下列不属于传动螺纹的是</span>
<span class="t" style="left:77.0px;top:128.6px"><span class="l">A</span></span>
<span class="t" style="left:87.4px;top:128.6px">普通螺纹</span>
<span class="t" style="left:144.0px;top:128.6px"><span class="l">B.</span></span>
<span class="t" style="left:171.3px;top:128.6px">矩形螺纹</span>
<span class="t" style="left:213.0px;top:128.6px"><span class="l">C.</span></span>
<span class="t" style="left:223.8px;top:128.6px">梯形螺纹</span>
<span class="t" style="left:265.5px;top:128.6px"><span class="l">D.</span></span>
<span class="t" style="left:275.3px;top:128.6px">锯齿形螺纹</span>
<span class="t" style="left:66.9px;top:143.4px"><span class="l">33.</span></span>
<span class="t" style="left:82.1px;top:143.4px">能使单出杆活塞式液压缸实现快进、工进、快退的液压元件是</span>
<span class="t" style="left:77.0px;top:158.2px"><span class="l">AM</span></span>
<span class="t" style="left:90.4px;top:158.2px">型滑阀机能的三位换向阀</span>
<span class="t" style="left:235.7px;top:158.2px"><span class="l">B.</span></span>
<span class="t" style="left:283.6px;top:158.2px">溢流阀</span>
<span class="t" style="left:74.5px;top:173.0px"><span class="l">C.P</span></span>
<span class="t" style="left:94.2px;top:173.0px">型滑阀机能的三位换向阀</span>
<span class="t" style="left:206.6px;top:173.0px"><span class="l">D.</span></span>
<span class="t" style="left:215.5px;top:173.0px">节流阀</span>
<span class="t" style="left:66.9px;top:187.8px"><span class="l">34.</span></span>
<span class="t" style="left:82.1px;top:187.8px">液压千斤顶大小活塞直径之比为</span>
<span class="t" style="left:223.1px;top:187.8px"><span class="l">6</span></span>
<span class="t" style="left:231.3px;top:187.8px">比</span>
<span class="t" style="left:244.2px;top:187.8px"><span class="l">1</span>，如果大活塞上升</span>
<span class="t" style="left:330.6px;top:187.8px"><span class="l">2mm</span></span>
<span class="t" style="left:345.0px;top:187.8px">，则小活塞被压下的距离为</span>
<span class="t" style="left:77.0px;top:202.6px"><span class="l">A 72mmB.36mm C.24mmD.12mm</span></span>
<span class="t" style="left:66.9px;top:217.4px"><span class="l">35.</span></span>
<span class="t" style="left:82.1px;top:217.4px">液压系统中的润滑油路需要较低的压力油，若它们与主系统共用一个液压泵，则必须在此</span>
<span class="t" style="left:66.9px;top:232.2px">分支油路中接入的控制阀是</span>
<span class="t" style="left:77.0px;top:247.0px"><span class="l">A</span></span>
<span class="t" style="left:87.4px;top:247.0px">溢流阀</span>
<span class="t" style="left:122.0px;top:247.0px"><span class="l">B.</span></span>
<span class="t" style="left:136.7px;top:247.0px">节流阀</span>
<span class="t" style="left:191.0px;top:247.0px"><span class="l">C.</span></span>
<span class="t" style="left:226.1px;top:247.0px">换向阀</span>
<span class="t" style="left:257.7px;top:247.0px"><span class="l">D.</span></span>
<span class="t" style="left:267.8px;top:247.0px">减压阀</span>
<span class="t" style="left:66.9px;top:261.8px"><span class="l">36</span>、半剖视图的分界线是</span>
<span class="t" style="left:69.5px;top:276.6px"><span class="l">A</span></span>
<span class="t" style="left:79.8px;top:276.6px">双点画线</span>
<span class="t" style="left:128.8px;top:276.6px"><span class="l">B</span></span>
<span class="t" style="left:146.0px;top:276.6px">虚线</span>
<span class="t" style="left:171.8px;top:276.6px"><span class="l">C</span></span>
<span class="t" style="left:183.9px;top:276.6px">细实线</span>
<span class="t" style="left:220.5px;top:276.6px"><span class="l">D</span></span>
<span class="t" style="left:236.0px;top:276.6px">细点画线</span>
<span class="t" style="left:66.9px;top:291.4px"><span class="l">37</span>、选择正确的重合断面图。</span>
<span class="t" style="left:66.7px;top:379.5px"><span class="l">38</span>、局部放大图的标注中，若被放大的部分有几个，应用（</span>
<span class="t" style="left:346.2px;top:379.5px">）数字编号，并在局部放大图</span>
<span class="t" style="left:66.7px;top:395.0px">上方标注相应的数字和采用的比例。</span>
<span class="t" style="left:69.7px;top:409.0px"><span class="l">A</span></span>
<span class="t" style="left:80.1px;top:409.0px">希腊</span>
<span class="t" style="left:111.4px;top:409.0px"><span class="l">B</span></span>
<span class="t" style="left:131.5px;top:409.0px">阿拉伯</span>
<span class="t" style="left:166.5px;top:409.0px"><span class="l">C</span></span>
<span class="t" style="left:178.5px;top:409.0px">罗马</span>
<span class="t" style="left:215.8px;top:409.0px"><span class="l">D</span></span>
<span class="t" style="left:240.4px;top:409.0px">中国</span>
<span class="t" style="left:66.7px;top:423.9px"><span class="l">39</span>、对于零件上的肋板、轮辐、薄壁等，怎样剖切，不画剖面符号，且用粗实线将它们与相邻</span>
<span class="t" style="left:66.7px;top:438.8px">结构分开。</span>
<span class="t" style="left:72.0px;top:453.7px"><span class="l">A</span></span>
<span class="t" style="left:84.7px;top:453.7px">横向</span>
<span class="t" style="left:116.7px;top:453.7px"><span class="l">B</span></span>
<span class="t" style="left:136.2px;top:453.7px">斜向</span>
<span class="t" style="left:166.5px;top:453.7px"><span class="l">C</span></span>
<span class="t" style="left:183.9px;top:453.7px">纵向</span>
<span class="t" style="left:216.3px;top:453.7px"><span class="l">D</span></span>
<span class="t" style="left:236.4px;top:453.7px">反向</span>
<span class="t" style="left:66.7px;top:468.6px"><span class="l">40.</span></span>
<span class="t" style="left:85.2px;top:468.6px">图形错误的是</span>
<span class="t" style="left:76.4px;top:586.5px"><span class="l">A</span></span>
<span class="t" style="left:124.1px;top:586.5px"><span class="l">B</span></span>
<span class="t" style="left:166.7px;top:586.5px"><span class="l">C</span></span>
<span class="t" style="left:214.6px;top:586.5px"><span class="l">D</span></span>
<span class="t" style="left:66.7px;top:601.7px"><span class="l">41.</span></span>
<span class="t" style="left:85.7px;top:601.7px">错误的断面图是</span>
<span class="t" style="left:510.3px;top:217.7px"><span class="l">A</span></span>
<span class="t" style="left:540.7px;top:217.7px"><span class="l">B</span></span>
<span class="t" style="left:571.1px;top:217.7px"><span class="l">C</span></span>
<span class="t" style="left:591.9px;top:217.7px"><span class="l">D</span></span>
<span class="t" style="left:497.9px;top:231.8px"><span class="l">42</span></span>
<span class="t" style="left:510.8px;top:231.8px">在下图中，选出正确的视图（</span>
<span class="t" style="left:659.5px;top:231.8px">）</span>
<span class="t" style="left:669.0px;top:231.8px">。</span>
<span class="t" style="left:497.8px;top:424.0px"><span class="l">43</span></span>
<span class="t" style="left:511.0px;top:424.0px">在下图中选出正确的局部剖视图。</span>
<span class="t" style="left:642.0px;top:424.0px">（</span>
<span class="t" style="left:709.8px;top:424.0px">）</span>
<span class="t" style="left:498.0px;top:595.3px"><span class="l">44</span></span>
<span class="t" style="left:512.6px;top:595.3px">平面截切圆球时，截交线总是</span>
<span class="t" style="left:640.7px;top:595.3px"><span class="l">________</span></span>
<span class="t" style="left:680.7px;top:595.3px">，但根据平面与投影面的相对位置不同，截交线的投</span>
</div></body></html>
